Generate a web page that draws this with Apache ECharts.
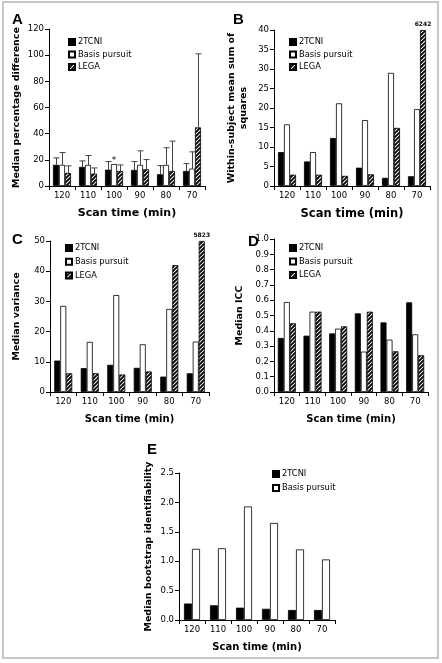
<!DOCTYPE html>
<html><head><meta charset="utf-8">
<script src="https://cdn.jsdelivr.net/npm/echarts@6/dist/echarts.min.js"></script>
<style>html,body{margin:0;padding:0;background:#fff}#c{width:442px;height:663px}</style>
</head><body><div id="c"></div>
<script>
const categories = ['120','110','100','90','80','70'];
// Panel A: median percentage difference (bar value, upper error end)
const a2TCNI = [16.2,14.6,12.5,12.3,9.0,11.5];
const aBP    = [16.2,16.1,16.8,16.1,16.1,13.3];
const aLEGA  = [10.0,9.5,11.5,12.8,11.5,44.8];
const a2TCNIErr = [21.5,19.2,18.7,18.7,15.6,17.1];
const aBPErr    = [25.6,23.3,null,26.9,29.2,26.1];
const aLEGAErr  = [15.4,13.8,16.1,20.2,34.3,101];
// Panel B: within-subject mean sum of squares
const b2TCNI = [8.7,6.3,12.3,4.7,2.1,2.5];
const bBP    = [15.8,8.7,21.2,16.9,29.0,19.7];
const bLEGA  = [2.9,2.9,2.6,3.0,14.9,40];
// Panel C: median variance
const c2TCNI = [10.4,7.9,9.0,8.0,5.1,6.2];
const cBP    = [28.5,16.6,32.1,15.8,27.5,16.7];
const cLEGA  = [6.2,6.2,5.8,6.8,42.0,50];
// Panel D: median ICC
const d2TCNI = [0.353,0.368,0.383,0.514,0.455,0.586];
const dBP    = [0.588,0.525,0.414,0.264,0.342,0.377];
const dLEGA  = [0.449,0.525,0.429,0.525,0.266,0.240];
// Panel E: median bootstrap identifiability
const e2TCNI = [0.28,0.25,0.21,0.19,0.17,0.17];
const eBP    = [1.21,1.22,1.93,1.65,1.20,1.03];

const FONT = 'DejaVu Sans';
function hatch(){
  const c=document.createElement('canvas'); c.width=c.height=4;
  const g=c.getContext('2d'); g.fillStyle='#fff'; g.fillRect(0,0,4,4);
  g.strokeStyle='#000'; g.lineWidth=1.9; g.beginPath();
  g.moveTo(-1,5); g.lineTo(5,-1); g.moveTo(-1,1); g.lineTo(1,-1); g.moveTo(3,5); g.lineTo(5,3);
  g.stroke(); return c;
}
const hatchFill = {image: hatch(), repeat:'repeat'};
const styles = {
  '2TCNI': {color:'#000', borderColor:'#000', borderWidth:0.8},
  'Basis pursuit': {color:'#fff', borderColor:'#000', borderWidth:0.8},
  'LEGA': {color:hatchFill, borderColor:'#000', borderWidth:0.8}
};

const grids = [
  {left:49, top:29, width:156, height:157},
  {left:274, top:30, width:156, height:156},
  {left:50, top:241, width:159, height:151},
  {left:274, top:239, width:154, height:153},
  {left:179, top:473, width:156, height:147}
];
const yCfg = [
  {max:120, interval:20, name:'Median percentage difference', gap:26, fmt:null},
  {max:40, interval:5, name:'Within-subject mean sum of\nsquares', gap:24, fmt:null},
  {max:50, interval:10, name:'Median variance', gap:27, fmt:null},
  {max:1, interval:0.1, name:'Median ICC', gap:28, fmt:v=>v.toFixed(1)},
  {max:2.5, interval:0.5, name:'Median bootstrap identifiability', gap:24, fmt:v=>v.toFixed(1)}
];
const xNameSize = [11,11.5,10,10,10];

const xAxis = grids.map((g,i)=>({
  type:'category', gridIndex:i, data:categories,
  name:'Scan time (min)', nameLocation:'middle', nameGap:22,
  nameTextStyle:{fontFamily:FONT, fontWeight:'bold', fontSize:xNameSize[i], color:'#000'},
  axisLine:{lineStyle:{color:'#000', width:1}},
  axisTick:{show:true, length:4, lineStyle:{color:'#000'}},
  axisLabel:{fontFamily:FONT, fontSize:8.5, color:'#000', margin:5}
}));
const yAxis = grids.map((g,i)=>({
  type:'value', gridIndex:i, min:0, max:yCfg[i].max, interval:yCfg[i].interval,
  name:yCfg[i].name, nameLocation:'middle', nameGap:yCfg[i].gap, nameRotate:90,
  nameTextStyle:{fontFamily:FONT, fontWeight:'bold', fontSize:9.5, color:'#000', lineHeight:12},
  axisLine:{show:true, lineStyle:{color:'#000', width:1}},
  axisTick:{show:true, length:4, lineStyle:{color:'#000'}},
  splitLine:{show:false},
  axisLabel:{fontFamily:FONT, fontSize:8.5, color:'#000', margin:5, formatter:yCfg[i].fmt||undefined}
}));

const series = [];
function bars(gi, name, vals, bw, extra){
  series.push({
    type:'bar', name:name, xAxisIndex:gi, yAxisIndex:gi, barWidth:bw, barGap:'0%',
    itemStyle:styles[name], data:extra?extra(vals):vals, animation:false
  });
}
function errBars(gi, vals, errs, offset, half, id){
  const data=[];
  vals.forEach((v,i)=>{ if(errs[i]!=null) data.push([i,v,errs[i]]); });
  series.push({
    type:'custom', name:id, xAxisIndex:gi, yAxisIndex:gi, z:5, animation:false,
    encode:{x:0, y:[1,2]}, data:data,
    renderItem:function(params, api){
      const p0=api.coord([api.value(0), api.value(1)]);
      const p1=api.coord([api.value(0), api.value(2)]);
      const x=Math.round(p0[0]+offset)+0.5;
      return {type:'group', children:[
        {type:'line', shape:{x1:x,y1:p0[1],x2:x,y2:p1[1]}, style:{stroke:'#444', lineWidth:1}},
        {type:'line', shape:{x1:x-half,y1:p1[1],x2:x+half,y2:p1[1]}, style:{stroke:'#444', lineWidth:1}}
      ]};
    }
  });
}
const bigLabel = (txt)=>(vals)=>vals.map((v,i)=> i===vals.length-1 ?
  {value:v, label:{show:true, position:'top', distance:3, formatter:txt, fontFamily:FONT, fontSize:6, fontWeight:'bold', color:'#000'}} : v);

// A
bars(0,'2TCNI',a2TCNI,6);
bars(0,'Basis pursuit',aBP,6, vals=>vals.map((v,i)=> i===2 ? {value:v, label:{show:true, position:'top', distance:-1, formatter:'*', fontFamily:FONT, fontSize:9, color:'#000'}} : v));
bars(0,'LEGA',aLEGA,6);
errBars(0,a2TCNI,a2TCNIErr,-6,3,'errA1');
errBars(0,aBP,aBPErr,0,3,'errA2');
errBars(0,aLEGA,aLEGAErr,6,3,'errA3');
// B
bars(1,'2TCNI',b2TCNI,6); bars(1,'Basis pursuit',bBP,6); bars(1,'LEGA',bLEGA,6,bigLabel('6242'));
// C
bars(2,'2TCNI',c2TCNI,6); bars(2,'Basis pursuit',cBP,6); bars(2,'LEGA',cLEGA,6,bigLabel('5823'));
// D
bars(3,'2TCNI',d2TCNI,6); bars(3,'Basis pursuit',dBP,6); bars(3,'LEGA',dLEGA,6);
// E
bars(4,'2TCNI',e2TCNI,8); bars(4,'Basis pursuit',eBP,8);

function leg(left, top, gap, names){
  return {left:left, top:top, orient:'vertical', itemWidth:6, itemHeight:6, itemGap:gap,
    icon:'rect', selectedMode:false, padding:0,
    textStyle:{fontFamily:FONT, fontSize:8.3, color:'#000', padding:[0,0,0,-2]}, data:names};
}
const all3=['2TCNI','Basis pursuit','LEGA'];
const legend=[
  leg(68,38,4.5,all3), leg(289,38,4.5,all3), leg(65,244,5.8,all3), leg(289,244,5.5,all3),
  leg(272,470,6,['2TCNI','Basis pursuit'])
];

const letter=(t,x,y)=>({type:'text', left:x, top:y, style:{text:t, font:'bold 15px "Liberation Sans"', fill:'#000'}});
const graphic=[
  {type:'rect', shape:{x:3,y:2,width:435,height:656}, style:{fill:'none', stroke:'#c8c8c8', lineWidth:2}, silent:true},
  letter('A',12,12), letter('B',233,12), letter('C',12,232), letter('D',248,234), letter('E',147,442)
];

const chart=echarts.init(document.getElementById('c'));
chart.setOption({animation:false, grid:grids, xAxis:xAxis, yAxis:yAxis, series:series, legend:legend, graphic:graphic});
</script></body></html>
